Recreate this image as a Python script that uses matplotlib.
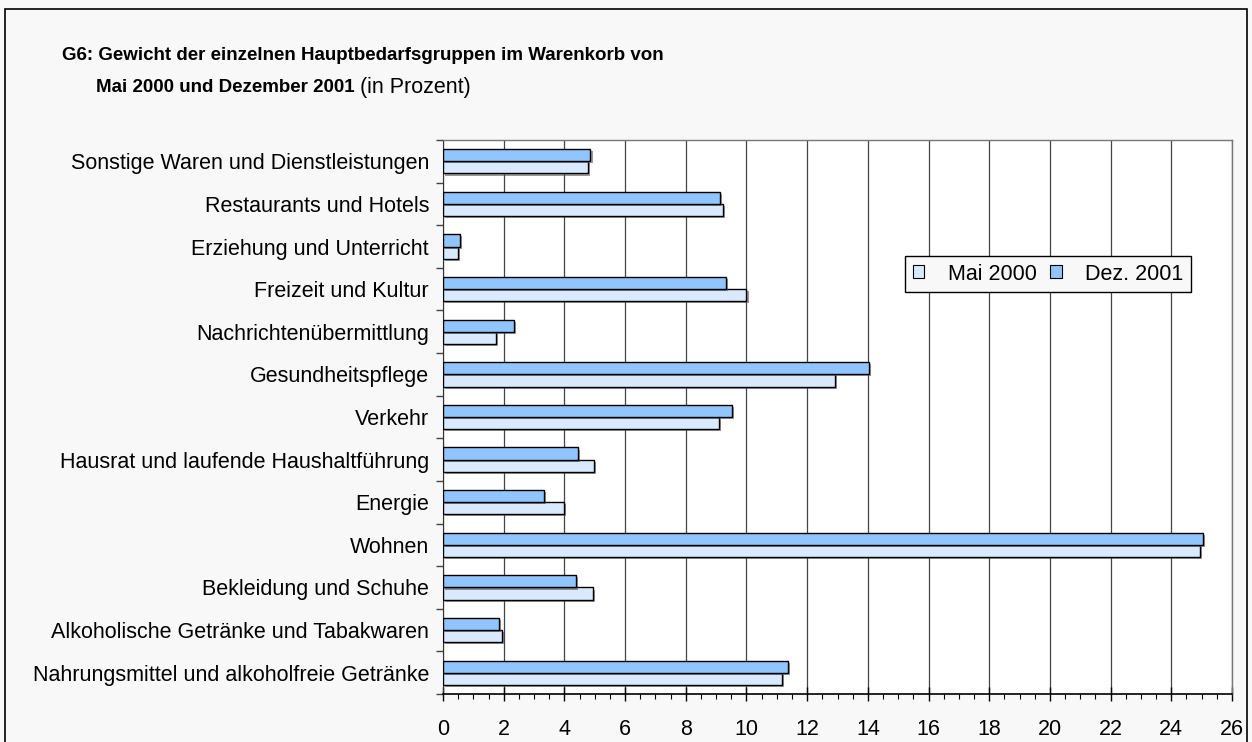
import numpy as np
import matplotlib.pyplot as plt
import matplotlib.patheffects as pe
from matplotlib.patches import Rectangle, Patch
from matplotlib.ticker import MultipleLocator

plt.rcParams['font.family'] = ['Liberation Sans', 'DejaVu Sans']

# Data (bottom to top as drawn)
categories = [
    'Nahrungsmittel und alkoholfreie Getränke',
    'Alkoholische Getränke und Tabakwaren',
    'Bekleidung und Schuhe',
    'Wohnen',
    'Energie',
    'Hausrat und laufende Haushaltführung',
    'Verkehr',
    'Gesundheitspflege',
    'Nachrichtenübermittlung',
    'Freizeit und Kultur',
    'Erziehung und Unterricht',
    'Restaurants und Hotels',
    'Sonstige Waren und Dienstleistungen',
]
mai_2000 = [11.16, 1.93, 4.93, 24.95, 3.98, 4.97, 9.09, 12.93, 1.74, 10.0, 0.48, 9.24, 4.78]
dez_2001 = [11.36, 1.83, 4.38, 25.03, 3.34, 4.45, 9.52, 14.05, 2.34, 9.33, 0.55, 9.12, 4.86]
series_names = ['Mai 2000', 'Dez. 2001']

BG = '#f8f8f8'
C_MAI = '#d9eaff'
C_DEZ = '#91c5ff'
FS = 15.5

fig = plt.figure(figsize=(12.52, 7.42), dpi=100, facecolor=BG)
ax = fig.add_axes([443 / 1252, 1 - 694 / 742, (1232 - 443) / 1252, (694 - 140) / 742])
ax.set_facecolor('white')

y = np.arange(len(categories))
h = 0.285
shadow = [pe.SimplePatchShadow(offset=(1.5, -1.5), shadow_rgbFace='#555555', alpha=0.6), pe.Normal()]
b1 = ax.barh(y - h / 2, mai_2000, height=h, color=C_MAI, edgecolor='black', linewidth=1.0, zorder=3)
b2 = ax.barh(y + h / 2, dez_2001, height=h, color=C_DEZ, edgecolor='black', linewidth=1.0, zorder=3)
for bar in list(b1) + list(b2):
    bar.set_path_effects(shadow)

ax.set_xlim(0, 26)
ax.set_ylim(-0.5, len(categories) - 0.5)
ax.xaxis.set_major_locator(MultipleLocator(2))
ax.xaxis.set_minor_locator(MultipleLocator(0.5))
ax.grid(axis='x', which='major', color='#444444', linewidth=0.9, zorder=0)
ax.set_axisbelow(True)

ax.set_yticks(y)
ax.set_yticklabels(categories, fontsize=FS)
ax.set_yticks(np.arange(-0.5, len(categories), 1), minor=True)
ax.tick_params(axis='y', which='major', length=0, pad=10)
ax.tick_params(axis='y', which='minor', length=5, width=1, color='#444444')
ax.tick_params(axis='x', which='major', direction='inout', length=10, width=1, labelsize=FS, pad=13)
ax.tick_params(axis='x', which='minor', length=3.5, width=0.8)

for side in ['top', 'right']:
    ax.spines[side].set_color('#777777')
    ax.spines[side].set_linewidth(1.0)
ax.spines['left'].set_color('#333333')
ax.spines['bottom'].set_linewidth(1.2)

handles = [Patch(facecolor=C_MAI, edgecolor='black', linewidth=0.8),
           Patch(facecolor=C_DEZ, edgecolor='black', linewidth=0.8)]
leg = ax.legend(handles, series_names, ncol=2, loc='upper left',
                bbox_to_anchor=((905 - 443) / 789, (694 - 256) / 554),
                fontsize=FS, frameon=True, fancybox=False, framealpha=1,
                edgecolor='black', facecolor=BG, handlelength=0.55, handleheight=0.55,
                handletextpad=1.1, columnspacing=0.6, borderpad=0.35, borderaxespad=0)
leg.get_frame().set_linewidth(1.0)

# outer frame
fig.patches.append(Rectangle((5 / 1252, -0.05), (1247 - 5) / 1252, 1.05 - 9 / 742,
                             transform=fig.transFigure, fill=False,
                             edgecolor='black', linewidth=1.2))

fig.text(62 / 1252, 1 - 55 / 742,
         'G6: Gewicht der einzelnen Hauptbedarfsgruppen im Warenkorb von',
         fontsize=13.5, fontweight='bold', va='center', ha='left')
t2 = fig.text(96 / 1252, 1 - 87 / 742, 'Mai 2000 und Dezember 2001',
              fontsize=13.5, fontweight='bold', va='center', ha='left')
fig.canvas.draw()
bb = t2.get_window_extent()
fig.text(bb.x1 / 1252 + 5 / 1252, 1 - 87 / 742, '(in Prozent)',
         fontsize=FS, va='center', ha='left')

fig.savefig('out.png', dpi=100, facecolor=BG)
